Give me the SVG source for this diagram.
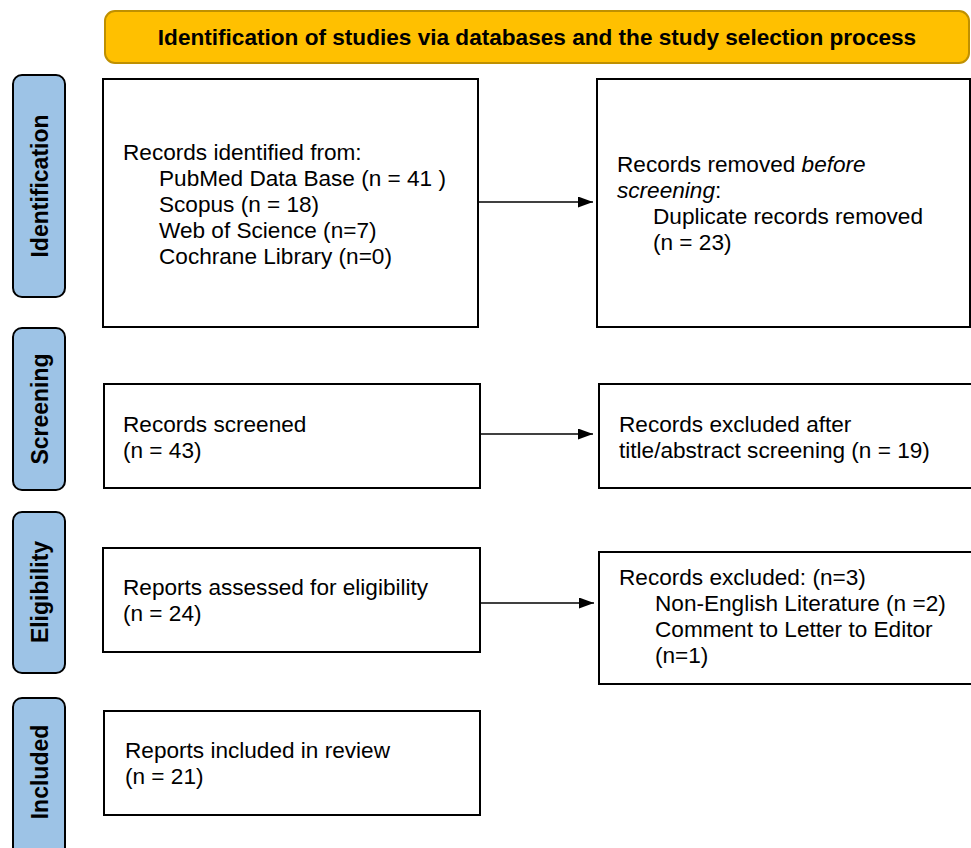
<svg xmlns="http://www.w3.org/2000/svg" width="971" height="848" viewBox="0 0 971 848">
<style>
text{font-family:"Liberation Sans",Arial,sans-serif;font-size:22.6px;fill:#000}
.b{font-weight:bold}
.t{font-size:23px}
.box{fill:#fff;stroke:#000;stroke-width:2}
.tab{fill:#9DC3E6;stroke:#000;stroke-width:2}
.conn{stroke:#000;stroke-width:1.3;fill:none}
</style>
<defs>
<marker id="ah" viewBox="0 0 15 11" refX="15" refY="5.5" markerWidth="15" markerHeight="11" markerUnits="userSpaceOnUse" orient="auto">
<path d="M0,0 L15,5.5 L0,11 Z" fill="#000"/>
</marker>
</defs>
<rect width="971" height="848" fill="#fff"/>
<g id="title">
<rect x="105" y="11" width="864" height="52" rx="10" fill="#FFC000" stroke="#BF9000" stroke-width="2"/>
<text class="b" x="537" y="45" text-anchor="middle">Identification of studies via databases and the study selection process</text>
</g>
<g id="tab-identification">
<rect class="tab" x="13" y="75" width="52" height="222" rx="9"/>
<text class="b t" transform="translate(48,186) rotate(-90)" text-anchor="middle">Identification</text>
</g>
<g id="tab-screening">
<rect class="tab" x="13" y="328" width="52" height="162" rx="9"/>
<text class="b t" transform="translate(48,409) rotate(-90)" text-anchor="middle">Screening</text>
</g>
<g id="tab-eligibility">
<rect class="tab" x="13" y="512" width="52" height="161" rx="9"/>
<text class="b t" transform="translate(48,592) rotate(-90)" text-anchor="middle">Eligibility</text>
</g>
<g id="tab-included">
<rect class="tab" x="13" y="698" width="52" height="160" rx="9"/>
<text class="b t" transform="translate(48,772) rotate(-90)" text-anchor="middle">Included</text>
</g>
<g id="identified">
<rect class="box" x="103" y="79" width="375" height="248"/>
<text x="123" y="160">Records identified from:</text>
<text x="159" y="186">PubMed Data Base (n = 41 )</text>
<text x="159" y="212">Scopus (n = 18)</text>
<text x="159" y="238">Web of Science (n=7)</text>
<text x="159" y="264">Cochrane Library (n=0)</text>
</g>
<g id="removed">
<rect class="box" x="597" y="79" width="373" height="248"/>
<text x="617" y="172">Records removed <tspan font-style="italic">before</tspan></text>
<text x="617" y="198"><tspan font-style="italic">screening</tspan>:</text>
<text x="653" y="224">Duplicate records removed</text>
<text x="653" y="250">(n = 23)</text>
</g>
<g id="screened">
<rect class="box" x="104" y="384" width="376" height="104"/>
<text x="123" y="432">Records screened</text>
<text x="123" y="458">(n = 43)</text>
</g>
<g id="excluded-screening">
<rect class="box" x="599" y="384" width="373" height="104"/>
<text x="619" y="432">Records excluded after</text>
<text x="619" y="458">title/abstract screening (n = 19)</text>
</g>
<g id="assessed">
<rect class="box" x="103" y="548" width="377" height="104"/>
<text x="123" y="595">Reports assessed for eligibility</text>
<text x="123" y="621">(n = 24)</text>
</g>
<g id="excluded-eligibility">
<rect class="box" x="599" y="552" width="373" height="132"/>
<text x="619" y="585">Records excluded: (n=3)</text>
<text x="655" y="611">Non-English Literature (n =2)</text>
<text x="655" y="637">Comment to Letter to Editor</text>
<text x="655" y="663">(n=1)</text>
</g>
<g id="included">
<rect class="box" x="104" y="711" width="376" height="104"/>
<text x="125" y="758">Reports included in review</text>
<text x="125" y="784">(n = 21)</text>
</g>
<g id="connectors">
<line class="conn" x1="478" y1="202" x2="593" y2="202" marker-end="url(#ah)"/>
<line class="conn" x1="480" y1="434" x2="593" y2="434" marker-end="url(#ah)"/>
<line class="conn" x1="480" y1="603" x2="594" y2="603" marker-end="url(#ah)"/>
</g>
</svg>
